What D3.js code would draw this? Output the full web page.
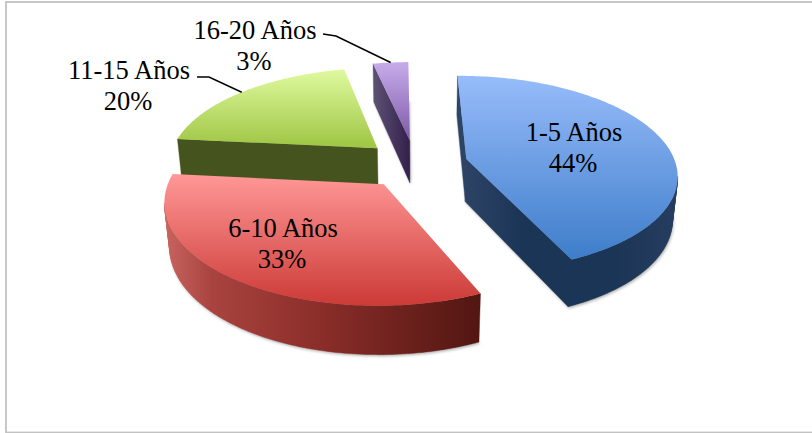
<!DOCTYPE html>
<html><head><meta charset="utf-8">
<script src="https://d3js.org/d3.v7.min.js"></script>
<style>html,body{margin:0;padding:0;background:#fff;overflow:hidden}svg{display:block}text{font-family:"Liberation Serif","Times New Roman",serif;fill:#000}</style>
</head><body><svg id="c" width="812" height="433"></svg>
<script>
// data
const categories = ["1-5 Años","6-10 Años","11-15 Años","16-20 Años"];
const values = [43.55,33.25,20.0,3.2];
// styles
const topColors = [["#97BCFA","#3E7DCA"],["#FF9897","#CC3A36"],["#DFFA9F","#9EC543"],["#C7ACEB","#7D59A6"]];
const wallStops = [
 [[0,"#2F4567"],[0.3,"#1B3556"],[0.7,"#1B3556"],[1,"#263D5F"]],
 [[0,"#C86561"],[0.15,"#A9433F"],[0.5,"#8A2D29"],[1,"#521611"]],
 [[0,"#45531F"],[1,"#45531F"]],
 [[0,"#5D5274"],[1,"#33204B"]]
];
// layout
const labelPos = [[574,141],[283,237],[129,79],[255,39]];
const lineGap = 31;
const elbows = [null,null,[[197,77],[209,77]],[[323,34],[336,36]]];
const fontPx = 26.5;
const explode = 0.25, persp = 0.1486, thick = 44, shrink = 0.02;
const rotation = -0.7*Math.PI/180;
const drawOrder = [3,2,0,1];

const W = 812, H = 433;
const svg = d3.select("#c");
const defs = svg.append("defs");
defs.append("filter").attr("id","soft").attr("x","-10%").attr("y","-10%").attr("width","120%").attr("height","120%")
  .append("feGaussianBlur").attr("stdDeviation",1.6);

svg.append("rect").attr("x",6).attr("y",2).attr("width",W+20).attr("height",430.5)
  .attr("fill","#fff").attr("stroke","#C2C2C2").attr("stroke-width",1.8);

const xs = d3.scaleLinear().domain([-1,1]).range([415.5-209.5,415.5+209.5]);
const ys = d3.scaleLinear().domain([-1,1]).range([164-96.8,164+96.8]);
const pie = d3.pie().sort(null).value(d=>d).startAngle(rotation).endAngle(rotation+2*Math.PI);
const arcs = pie(values);
const pct = d3.format(".0%");
const total = d3.sum(values);
const line = d3.line();

function project(u,v,h){
  const w = 1 - persp*v + (h?shrink:0);
  return [xs(u/w), ys(v/w) + (h?thick/w:0)];
}
function disc(t,r,mid){
  return [r*Math.sin(t)+explode*Math.sin(mid), -r*Math.cos(t)-explode*Math.cos(mid)];
}
function outline(a){
  const mid=(a.startAngle+a.endAngle)/2, step=Math.PI/180;
  const n=Math.max(2,Math.ceil((a.endAngle-a.startAngle)/step));
  const pts=[disc(0,0,mid)];
  d3.range(n+1).forEach(i=>pts.push(disc(a.startAngle+(a.endAngle-a.startAngle)*i/n,1,mid)));
  return pts;
}
drawOrder.forEach(i=>{
  const a=arcs[i], ring=outline(a);
  const top=ring.map(p=>project(p[0],p[1],false));
  const bot=ring.map(p=>project(p[0],p[1],true));
  const g=svg.append("g");
  // soft shadow under the base
  g.append("path").attr("d",line(bot)+"Z").attr("fill","#777").attr("opacity",0.6)
    .attr("transform","translate(1,1.5)").attr("filter","url(#soft)");
  // walls facing the viewer
  let d="";
  top.forEach((p,k)=>{
    const q=top[(k+1)%top.length], qb=bot[(k+1)%top.length], pb=bot[k];
    if(q[0]<p[0]-1e-6) d+=line([p,q,qb,pb])+"Z";
  });
  const wg=defs.append("linearGradient").attr("id","w"+i).attr("x1",0).attr("x2",1).attr("y1",0).attr("y2",0);
  wallStops[i].forEach(s=>wg.append("stop").attr("offset",s[0]).attr("stop-color",s[1]));
  g.append("path").attr("d",d).attr("fill",`url(#w${i})`).attr("fill-rule","nonzero")
    .attr("stroke",`url(#w${i})`).attr("stroke-width",0.4);
  const tg=defs.append("linearGradient").attr("id","t"+i).attr("x1",0).attr("x2",0).attr("y1",0).attr("y2",1);
  topColors[i].forEach((c,k)=>tg.append("stop").attr("offset",k).attr("stop-color",c));
  g.append("path").attr("d",line(top)+"Z").attr("fill",`url(#t${i})`);
});

// leader lines end on the rim at the middle of their slice
arcs.forEach((a,i)=>{
  if(!elbows[i]) return;
  const mid=(a.startAngle+a.endAngle)/2, p=disc(mid,1,mid);
  svg.append("path").attr("fill","none").attr("stroke","#000").attr("stroke-width",1.5)
    .attr("d",line([...elbows[i],project(p[0],p[1],false)]));
});
// labels
categories.forEach((c,i)=>{
  const t=svg.append("text").attr("text-anchor","middle").attr("font-size",fontPx);
  t.append("tspan").attr("x",labelPos[i][0]).attr("y",labelPos[i][1]).text(c);
  t.append("tspan").attr("x",labelPos[i][0]-1).attr("y",labelPos[i][1]+lineGap).text(pct(values[i]/total));
});
</script></body></html>
